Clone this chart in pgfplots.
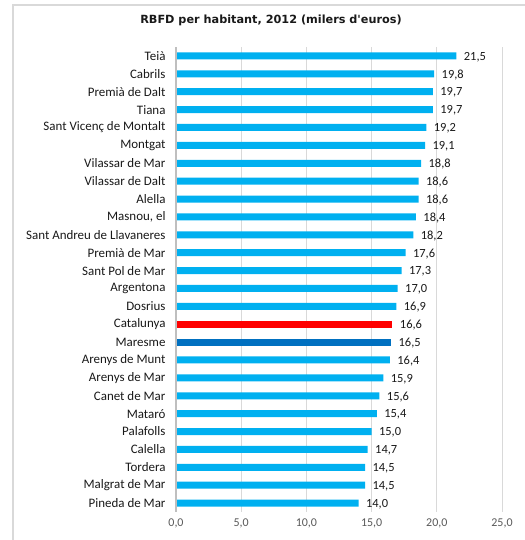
\documentclass[border=0pt]{standalone}
\usepackage{fontspec}
\setmainfont{Carlito}
\newfontfamily\titlefont{DejaVu Sans}
\usepackage{pgfplots}
\pgfplotsset{compat=1.18}
\definecolor{barblue}{HTML}{00B0F0}
\definecolor{catred}{HTML}{FF0000}
\definecolor{marblue}{HTML}{0070C0}
\definecolor{gridgray}{HTML}{D9D9D9}
\definecolor{axgray}{HTML}{BFBFBF}
\definecolor{ticktext}{HTML}{595959}
\begin{document}
\begin{tikzpicture}
\useasboundingbox (0bp,0bp) rectangle (525bp,540bp);
\begin{pgfinterruptboundingbox}
\draw[gridgray, line width=1.5bp] (13bp,0bp) -- (13bp,535bp) -- (525bp,535bp);
\node[font=\titlefont\bfseries\fontsize{11.3}{13}\selectfont, text=black!90] at (271bp,520bp) {RBFD per habitant, 2012 (milers d'euros)};
\begin{axis}[
  at={(176bp,28bp)}, anchor=south west,
  scale only axis, width=326bp, height=465bp,
  xmin=0, xmax=25, ymin=-0.5, ymax=25.5,
  y dir=reverse,
  xbar, bar width=7bp,
  axis line style={draw=none},
  major tick length=0pt,
  xmajorgrids, grid style={gridgray, line width=0.8bp},
  xtick={0,5,10,15,20,25},
  xticklabel style={font=\fontsize{12}{14}\selectfont, text=ticktext, yshift=-3bp,
    /pgf/number format/.cd, fixed, fixed zerofill, precision=1, use comma, assume math mode=true},
  ytick={0,...,25},
  yticklabels={Teià, Cabrils, Premià de Dalt, Tiana, Sant Vicenç de Montalt, Montgat, Vilassar de Mar, Vilassar de Dalt, Alella, {Masnou, el}, Sant Andreu de Llavaneres, Premià de Mar, Sant Pol de Mar, Argentona, Dosrius, Catalunya, Maresme, Arenys de Munt, Arenys de Mar, Canet de Mar, Mataró, Palafolls, Calella, Tordera, Malgrat de Mar, Pineda de Mar},
  yticklabel style={font=\fontsize{13}{15}\selectfont, text=black!90, xshift=-7bp},
  nodes near coords,
  nodes near coords style={font=\fontsize{12.5}{14}\selectfont, text=black!90, xshift=4bp, yshift=-1bp,
    /pgf/number format/.cd, fixed, fixed zerofill, precision=1, use comma, assume math mode=true},
  clip=false,
]
\addplot[bar shift=0pt, fill=barblue, draw=none] coordinates {
(21.5,0) (19.8,1) (19.7,2) (19.7,3) (19.2,4) (19.1,5) (18.8,6) (18.6,7) (18.6,8) (18.4,9)
(18.2,10) (17.6,11) (17.3,12) (17.0,13) (16.9,14)
(16.4,17) (15.9,18) (15.6,19) (15.4,20) (15.0,21) (14.7,22) (14.5,23) (14.5,24) (14.0,25)};
\addplot[bar shift=0pt, fill=catred, draw=none] coordinates {(16.6,15)};
\addplot[bar shift=0pt, fill=marblue, draw=none] coordinates {(16.5,16)};
\draw[axgray, line width=1.5bp] (axis cs:0,-0.5) -- (axis cs:0,25.5);
\end{axis}
\end{pgfinterruptboundingbox}
\end{tikzpicture}
\end{document}
